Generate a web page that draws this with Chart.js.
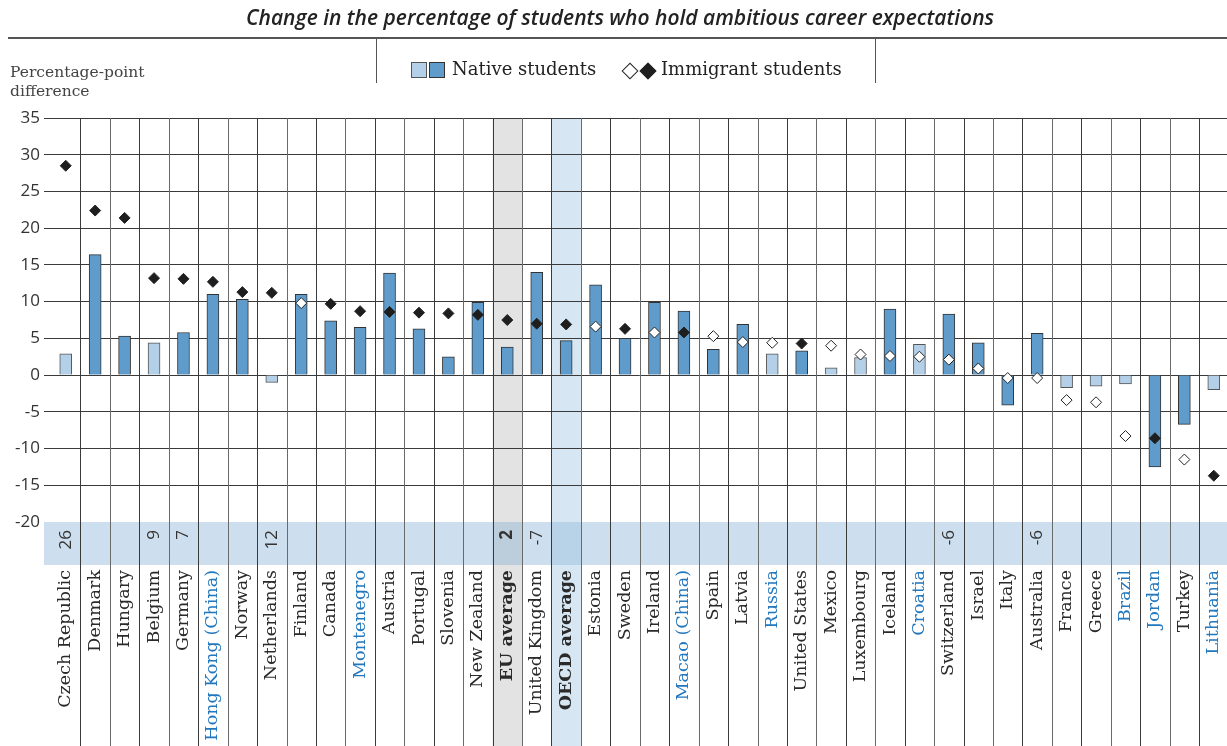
<!DOCTYPE html>
<html>
<head>
<meta charset="utf-8">
<script src="https://cdn.jsdelivr.net/npm/chart.js@4.4.1/dist/chart.umd.min.js"></script>
<style>
  html, body { margin: 0; padding: 0; background: #fff; overflow: hidden; }
  #page { position: relative; width: 1227px; height: 746px; overflow: hidden; }
  #chartBox { position: absolute; left: 0; top: 0; width: 1235px; height: 746px; }
  #subtitle { position: absolute; top: 3px; left: 0; width: 1240px; text-align: center;
    font: italic 600 21px "Open Sans"; color: #222; white-space: nowrap; }
  #rule { position: absolute; left: 8px; right: 0; top: 37px; height: 2px; background: #555; }
  .divider { position: absolute; top: 38px; width: 1px; height: 45px; background: #555; }
  #yTitle { position: absolute; left: 10px; top: 63px; font: 15.5px "DejaVu Serif"; color: #444; line-height: 19px; }
  .legendText { position: absolute; top: 58px; font: 18px "DejaVu Serif"; color: #222; }
  .sw { position: absolute; top: 62px; width: 14px; height: 14px; border: 1px solid #555; }
  .dm { position: absolute; top: 65px; width: 10px; height: 10px; transform: rotate(45deg); border: 1px solid #222; }
</style>
</head>
<body>
<div id="page">
  <div id="chartBox"><canvas id="chart"></canvas></div>
  <div id="subtitle">Change in the percentage of students who hold ambitious career expectations</div>
  <div id="rule"></div>
  <div class="divider" style="left:376px"></div>
  <div class="divider" style="left:875px"></div>
  <div id="yTitle">Percentage-point<br>difference</div>
  <div class="sw" style="left:411px;background:#b4d0e8"></div>
  <div class="sw" style="left:429px;background:#5f9ccc;border-color:#333"></div>
  <div class="legendText" style="left:452px">Native students</div>
  <div class="dm" style="left:624px;background:#fff"></div>
  <div class="dm" style="left:642px;background:#1e1e1e"></div>
  <div class="legendText" style="left:661px">Immigrant students</div>
</div>
<script>
const categories = [
  'Czech Republic', 'Denmark', 'Hungary', 'Belgium', 'Germany', 'Hong Kong (China)', 'Norway',
  'Netherlands', 'Finland', 'Canada', 'Montenegro', 'Austria', 'Portugal', 'Slovenia', 'New Zealand',
  'EU average', 'United Kingdom', 'OECD average', 'Estonia', 'Sweden', 'Ireland', 'Macao (China)',
  'Spain', 'Latvia', 'Russia', 'United States', 'Mexico', 'Luxembourg', 'Iceland', 'Croatia',
  'Switzerland', 'Israel', 'Italy', 'Australia', 'France', 'Greece', 'Brazil', 'Jordan', 'Turkey',
  'Lithuania'
];

// percentage-point change, native students (bars)
const nativeValues = [
  2.9, 16.4, 5.3, 4.4, 5.8, 11.0, 10.3, -1.0, 11.0, 7.4, 6.5, 13.9, 6.3, 2.5, 9.9,
  3.8, 14.0, 4.7, 12.3, 5.0, 9.9, 8.7, 3.5, 6.9, 2.9, 3.3, 1.0, 2.4, 9.0, 4.2,
  8.3, 4.4, -4.1, 5.7, -1.7, -1.5, -1.2, -12.5, -6.7, -2.0
];

// percentage-point change, immigrant students (diamonds)
const immigrantValues = [
  28.5, 22.4, 21.4, 13.2, 13.1, 12.7, 11.3, 11.2, 9.8, 9.7, 8.7, 8.6, 8.5, 8.4, 8.2,
  7.5, 7.0, 6.9, 6.6, 6.3, 5.8, 5.8, 5.3, 4.5, 4.4, 4.3, 4.0, 2.8, 2.6, 2.5,
  2.1, 0.9, -0.4, -0.4, -3.4, -3.7, -8.3, -8.6, -11.5, -13.7
];

// significant changes are drawn in darker tones
const nativeSignificant = [
  false, true, true, false, true, true, true, false, true, true, true, true, true, true, true,
  true, true, true, true, true, true, true, true, true, false, true, false, false, true, false,
  true, true, true, true, false, false, false, true, true, false
];
const immigrantSignificant = [
  true, true, true, true, true, true, true, true, false, true, true, true, true, true, true,
  true, true, true, false, true, false, true, false, false, false, true, false, false, false, false,
  false, false, false, false, false, false, false, true, false, true
];

// difference between immigrant and native students (only where shown)
const gapValues = [
  '26', '', '', '9', '7', '', '', '12', '', '', '', '', '', '', '',
  '2', '-7', '', '', '', '', '', '', '', '', '', '', '', '', '',
  '-6', '', '', '-6', '', '', '', '', '', ''
];

const partnerCountries = ['Hong Kong (China)', 'Montenegro', 'Macao (China)', 'Russia', 'Croatia', 'Brazil', 'Jordan', 'Lithuania'];
const averageLabels = ['EU average', 'OECD average'];

const yMin = -20;
const yMax = 35;
const yStep = 5;

const BLUE_TEXT = '#2377bd';
const DARK_BAR = '#5f9ccc';
const LIGHT_BAR = '#b4d0e8';

const shading = {
  'EU average': { column: '#e3e3e3', band: '#bccedc' },
  'OECD average': { column: '#d6e6f2', band: '#b8d3e7' }
};

const decorations = {
  id: 'decorations',
  beforeDraw(chart) {
    const { ctx, chartArea, scales: { x } } = chart;
    const half = (x.getPixelForValue(1) - x.getPixelForValue(0)) / 2;
    const bandTop = chartArea.bottom;
    const bandH = 43;
    ctx.save();
    categories.forEach((c, i) => {
      if (!shading[c]) return;
      const cx = x.getPixelForValue(i);
      ctx.fillStyle = shading[c].column;
      ctx.fillRect(cx - half, chartArea.top, half * 2, chart.height - chartArea.top);
    });
    ctx.fillStyle = '#cddfee';
    ctx.fillRect(chartArea.left - 7, bandTop, chartArea.right - chartArea.left + 7, bandH);
    categories.forEach((c, i) => {
      if (!shading[c]) return;
      const cx = x.getPixelForValue(i);
      ctx.fillStyle = shading[c].band;
      ctx.fillRect(cx - half, bandTop, half * 2, bandH);
    });
    ctx.restore();
  },
  beforeDatasetsDraw(chart) {
    const { ctx, chartArea, scales: { x } } = chart;
    const half = (x.getPixelForValue(1) - x.getPixelForValue(0)) / 2;
    ctx.save();
    ctx.lineWidth = 1;
    for (let i = 1; i < categories.length; i++) {
      const lx = Math.round(x.getPixelForValue(i) - half) + 0.5;
      ctx.strokeStyle = i % 2 ? '#3a3a3a' : '#6a6a6a';
      ctx.beginPath();
      ctx.moveTo(lx, chartArea.top);
      ctx.lineTo(lx, chart.height);
      ctx.stroke();
    }
    ctx.restore();
  },
  afterDraw(chart) {
    const { ctx, chartArea, scales: { x } } = chart;
    ctx.save();
    ctx.fillStyle = '#333';
    ctx.textAlign = 'right';
    ctx.textBaseline = 'middle';
    gapValues.forEach((v, i) => {
      if (!v) return;
      const bold = averageLabels.includes(categories[i]);
      ctx.font = (bold ? 'bold ' : '') + '17px "Open Sans"';
      ctx.save();
      ctx.translate(x.getPixelForValue(i), chartArea.bottom + 8);
      ctx.rotate(-Math.PI / 2);
      ctx.fillText(v, 0, 0);
      ctx.restore();
    });
    ctx.restore();
  }
};

new Chart(document.getElementById('chart'), {
  data: {
    labels: categories,
    datasets: [
      {
        type: 'line',
        label: 'Immigrant students',
        data: immigrantValues,
        showLine: false,
        pointStyle: 'rectRot',
        pointRadius: 5.5,
        pointHoverRadius: 5.5,
        pointBackgroundColor: immigrantSignificant.map(s => (s ? '#1e1e1e' : '#ffffff')),
        pointBorderColor: '#222',
        pointBorderWidth: 1,
        order: 0
      },
      {
        type: 'bar',
        label: 'Native students',
        data: nativeValues,
        backgroundColor: nativeSignificant.map(s => (s ? DARK_BAR : LIGHT_BAR)),
        borderColor: nativeSignificant.map(s => (s ? '#333' : '#555')),
        borderWidth: 1,
        barThickness: 12,
        order: 1
      }
    ]
  },
  options: {
    responsive: true,
    maintainAspectRatio: false,
    animation: false,
    layout: { padding: { top: 118, left: 0, right: 0, bottom: 0 } },
    plugins: { legend: { display: false }, tooltip: { enabled: false } },
    scales: {
      x: {
        offset: true,
        grid: { display: false },
        border: { display: false },
        ticks: {
          autoSkip: false,
          maxRotation: 90,
          minRotation: 90,
          padding: 40,
          font: ctx => ({
            family: '"DejaVu Serif"',
            size: 17.5,
            weight: averageLabels.includes(categories[ctx.index]) ? 'bold' : 'normal'
          }),
          color: ctx => (partnerCountries.includes(categories[ctx.index]) ? BLUE_TEXT : '#2a2a2a')
        },
        afterFit(scale) {
          scale.height = 746 - 522;
          scale.paddingLeft = 0;
          scale.paddingRight = 0;
        }
      },
      y: {
        min: yMin,
        max: yMax,
        border: { display: false },
        grid: {
          color: ctx => (ctx.tick && ctx.tick.value === yMin ? 'rgba(0,0,0,0)' : '#3a3a3a'),
          lineWidth: 1,
          tickLength: 7,
          drawTicks: true
        },
        ticks: {
          stepSize: yStep,
          padding: 4,
          color: '#333',
          font: { family: '"Open Sans"', size: 17 }
        },
        afterFit(scale) { scale.width = 51; }
      }
    }
  },
  plugins: [decorations]
});
</script>
</body>
</html>
